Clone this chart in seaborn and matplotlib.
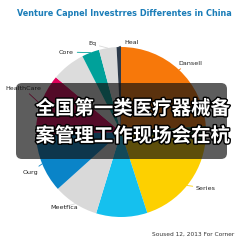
import matplotlib
matplotlib.use("Agg")
import matplotlib.pyplot as plt
import matplotlib.patheffects as pe
from matplotlib.patches import FancyBboxPatch
import numpy as np
import seaborn as sns

# ---- data (degrees of the full circle, clockwise from 12 o'clock) ----
categories = ["Dansell", "", "Series", "", "Meetfica", "Ourg", "HealthCare", "", "Core", "Eq", "Heal"]
values = [86, 10, 66, 35, 31, 40, 42, 23, 12, 12, 3]
colors = ["#F7780A", "#1E7A45", "#FDD000", "#15C0EE", "#D9D9D9", "#0A84C8",
          "#E0005A", "#DCDCDC", "#00A19A", "#DADADA", "#2C3A4A"]
# label text positions (pixels in a 243x243 canvas)
label_pos = {"Dansell": (178, 63), "Series": (196, 188), "Meetfica": (50, 207),
             "Ourg": (23, 172), "HealthCare": (5, 88), "Core": (59, 52),
             "Eq": (88, 44), "Heal": (124, 42)}
title = "Venture Capnel Investrres Differentes in China"
banner_lines = ["全国第一类医疗器械备", "案管理工作现场会在杭"]
footnote = "Soused 12, 2013 For Corner"

sns.set_theme(style="white")
plt.rcParams['font.family'] = ['DejaVu Sans']

fig = plt.figure(figsize=(2.43, 2.43), dpi=100)
fig.patch.set_facecolor("white")

W = 243.0
cx, cy, r = 121, 132, 85
ax = fig.add_axes([(cx - r) / W, 1 - (cy + r) / W, 2 * r / W, 2 * r / W])
wedges, _ = ax.pie(values, colors=colors, startangle=90, counterclock=False,
                   radius=1, wedgeprops=dict(linewidth=0))
ax.set_xlim(-1, 1)
ax.set_ylim(-1, 1)
ax.set_aspect("equal")
ax.axis("off")

# overlay axes in pixel coordinates
ov = fig.add_axes([0, 0, 1, 1], zorder=5)
ov.set_xlim(0, W)
ov.set_ylim(W, 0)
ov.axis("off")
ov.patch.set_alpha(0)

# labels with short leaders
for w, name, col in zip(wedges, categories, colors):
    if not name:
        continue
    theta = np.deg2rad((w.theta1 + w.theta2) / 2)
    px, py = np.cos(theta), np.sin(theta)
    tx, ty = label_pos[name]
    ax.annotate(name, xy=(px * 1.0, py * 1.0), xytext=(tx, ty),
                textcoords=ov.transData, fontsize=4.6, color="#222222",
                va="center", ha="left",
                arrowprops=dict(arrowstyle="-", color=col, lw=0.6,
                                shrinkA=0, shrinkB=0))

fig.text(124 / W, 1 - 14 / W, title, ha="center", va="center",
         fontsize=5.85, fontweight="bold", color="#1B7DB8")

fig.text(152 / W, 1 - 234 / W, footnote, ha="left", va="center",
         fontsize=4.2, color="#333333")

# banner
box = FancyBboxPatch((16, 83), 211, 76, boxstyle="round,pad=0,rounding_size=6",
                     facecolor="#111111", edgecolor="none", alpha=0.68)
ov.add_patch(box)
for i, line in enumerate(banner_lines):
    ov.text(133, 109 + 27 * i, line, ha="center", va="center",
            fontsize=14, fontweight="bold", color="white",
            family=["Noto Sans CJK SC", "DejaVu Sans"],
            path_effects=[pe.withStroke(linewidth=2, foreground="black")])

fig.savefig("out.png", dpi=100)
